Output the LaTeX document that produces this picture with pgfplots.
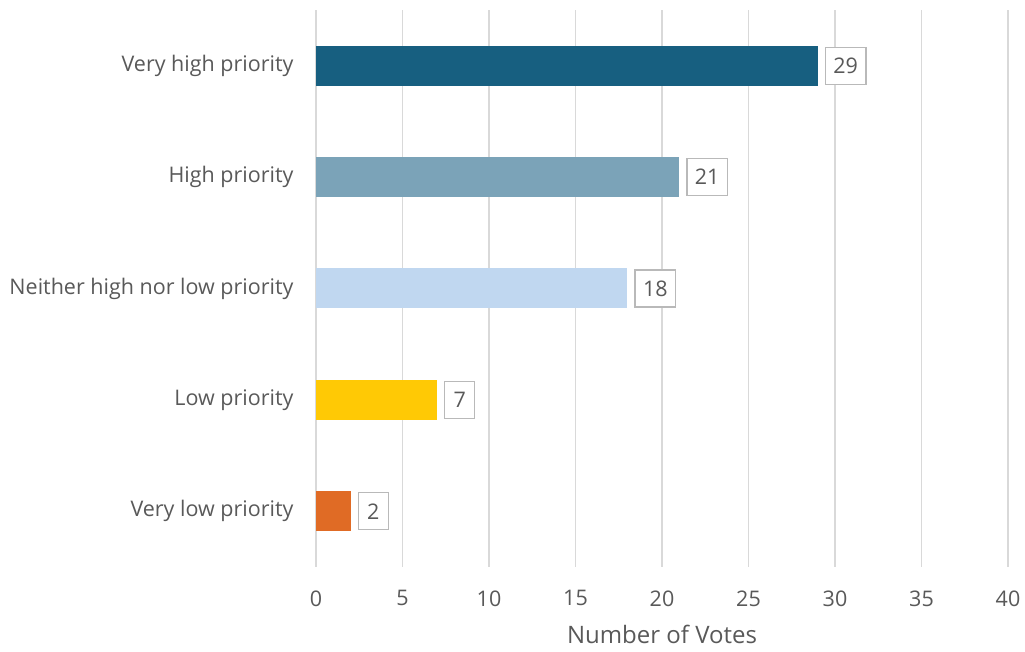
\documentclass[border=0pt]{standalone}
\usepackage{pgfplots}
\pgfplotsset{compat=1.18}
\usepackage{fontspec}
\setmainfont{Open Sans}
\definecolor{txt}{HTML}{595959}
\definecolor{gridc}{HTML}{D9D9D9}
\definecolor{c1}{HTML}{175F80}
\definecolor{c2}{HTML}{7BA3B8}
\definecolor{c3}{HTML}{C0D7F0}
\definecolor{c4}{HTML}{FFC905}
\definecolor{c5}{HTML}{E06B25}
\begin{document}
\begin{tikzpicture}[x=1pt,y=1pt]
\begin{axis}[
  name=ax,
  scale only axis,
  width=692pt, height=557pt,
  xmin=0, xmax=40, ymin=-0.5, ymax=4.5,
  xtick={0,5,...,40},
  ytick={0,1,2,3,4},
  yticklabels={Very low priority,Low priority,Neither high nor low priority,High priority,Very high priority},
  axis line style={draw=none},
  major tick length=0pt,
  xmajorgrids, grid style={gridc, line width=1.5pt},
  tick label style={font=\fontsize{21.5}{25}\selectfont, text=txt},
  /pgf/number format/assume math mode=true,
  xticklabel style={yshift=-20pt},
  yticklabel style={xshift=-19pt},
  xlabel={Number of Votes},
  xlabel style={font=\fontsize{24}{28}\selectfont, text=txt, yshift=-12pt},
  xbar, bar width=40pt, bar shift=0pt,
  nodes near coords,
  every node near coord/.append style={font=\fontsize{21.5}{25}\selectfont, text=txt, draw=gray!55, line width=1.3pt, fill=white, minimum height=37pt, minimum width=30pt, inner xsep=8pt, inner ysep=4pt, xshift=7pt},
  clip=false,
]
\addplot[fill=c1, draw=none] coordinates {(29,4)};
\addplot[fill=c2, draw=none] coordinates {(21,3)};
\addplot[fill=c3, draw=none] coordinates {(18,2)};
\addplot[fill=c4, draw=none] coordinates {(7,1)};
\addplot[fill=c5, draw=none] coordinates {(2,0)};
\end{axis}
\pgfresetboundingbox
\path[use as bounding box] ([shift={(-316pt,-85pt)}]ax.south west) rectangle ([shift={(17pt,10pt)}]ax.north east);
\end{tikzpicture}
\end{document}
